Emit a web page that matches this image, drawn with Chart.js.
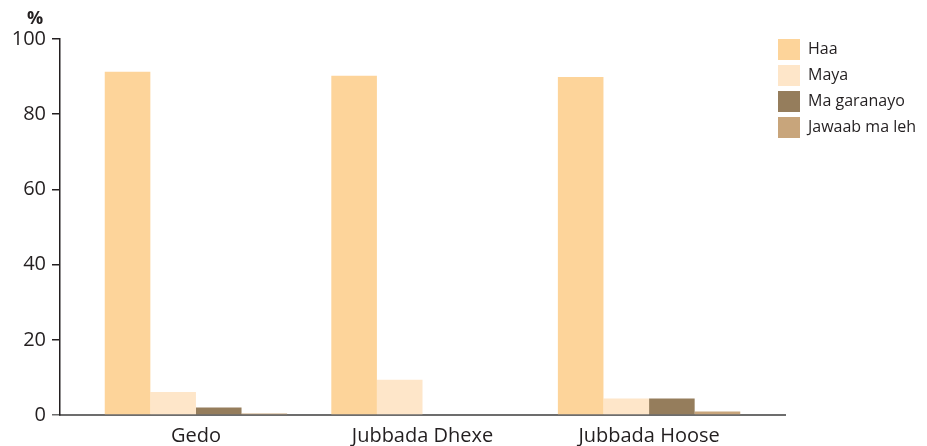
<!DOCTYPE html>
<html>
<head>
<meta charset="utf-8">
<script src="https://cdn.jsdelivr.net/npm/chart.js@4"></script>
<style>
  html, body { margin: 0; padding: 0; background: #fff; }
  #wrap { width: 927px; height: 446px; }
</style>
</head>
<body>
<div id="wrap"><canvas id="myChart"></canvas></div>
<script>
// data
const categories = ["Gedo", "Jubbada Dhexe", "Jubbada Hoose"];
const haa = [91.3, 90.2, 89.9];
const maya = [6.1, 9.4, 4.4];
const maGaranayo = [2.0, 0.2, 4.4];
const jawaabMaLeh = [0.4, 0, 0.9];
const yTicks = [0, 20, 40, 60, 80, 100];

const seriesNames = ["Haa", "Maya", "Ma garanayo", "Jawaab ma leh"];
const seriesColors = ["#fdd49a", "#fee6c9", "#957d5c", "#c8a57b"];
const seriesValues = [haa, maya, maGaranayo, jawaabMaLeh];

Chart.defaults.font.family = "'Open Sans', sans-serif";
Chart.defaults.color = "#231f20";

// draws the % label above the y axis and nudges the legend left
const extras = {
  id: "extras",
  afterLayout(chart) {
    const lg = chart.legend;
    lg.left -= 12; lg.right -= 12;
    lg.top -= 5; lg.bottom -= 5;
  },
  afterDraw(chart) {
    const y = chart.scales.y;
    const c = chart.ctx;
    c.save();
    c.font = "bold 18px 'Open Sans', sans-serif";
    c.fillStyle = "#231f20";
    c.textAlign = "center";
    c.textBaseline = "bottom";
    c.fillText("%", y.right - 25, y.top - 11);
    c.restore();
  }
};

const ctx = document.getElementById("myChart");

new Chart(ctx, {
  type: "bar",
  data: {
    datasets: seriesNames.map((name, k) => ({
      label: name,
      backgroundColor: seriesColors[k],
      data: seriesValues[k].map((v, i) => ({ x: i, y: v })),
      barPercentage: 1,
      categoryPercentage: 0.805
    }))
  },
  options: {
    responsive: true,
    maintainAspectRatio: false,
    animation: false,
    layout: { padding: { top: 39, left: 0, right: 0, bottom: 0 } },
    plugins: {
      tooltip: { enabled: false },
      legend: {
        position: "right",
        align: "start",
        maxWidth: 142,
        labels: {
          boxWidth: 22,
          boxHeight: 21,
          padding: 5,
          color: "#231f20",
          font: { size: 16 }
        }
      }
    },
    scales: {
      x: {
        type: "linear",
        min: -0.6,
        max: 2.6,
        offset: false,
        grid: { display: false, drawTicks: false },
        border: { display: true, color: "#6d6d6d", width: 2 },
        afterBuildTicks: (scale) => {
          scale.ticks = categories.map((c, i) => ({ value: i }));
        },
        ticks: {
          autoSkip: false,
          maxRotation: 0,
          padding: 9,
          font: { size: 20 },
          color: "#231f20",
          callback: (v) => categories[v]
        },
        afterFit: (scale) => { scale.height = 31; }
      },
      y: {
        min: 0,
        max: 100,
        afterBuildTicks: (scale) => {
          scale.ticks = yTicks.map((v) => ({ value: v }));
        },
        grid: {
          drawOnChartArea: false,
          tickLength: 8,
          lineWidth: 1.5,
          color: (c) => (c.tick && c.tick.value === 0 ? "#6d6d6d" : "#231f20")
        },
        border: { display: true, color: "#231f20", width: 1.5 },
        ticks: {
          padding: 6,
          font: { size: 20 },
          color: "#231f20"
        },
        afterFit: (scale) => { scale.width = 60; }
      }
    }
  },
  plugins: [extras]
});
</script>
</body>
</html>
